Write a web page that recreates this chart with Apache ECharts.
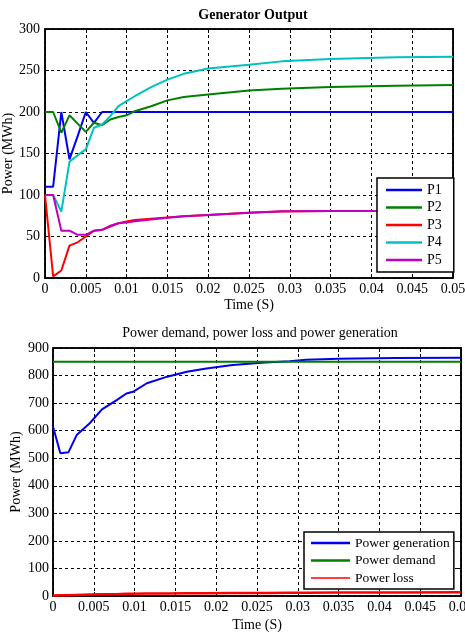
<!DOCTYPE html>
<html>
<head>
<meta charset="utf-8">
<script src="https://cdn.jsdelivr.net/npm/echarts@6/dist/echarts.min.js"></script>
<style>
html,body{margin:0;padding:0;background:#fff;}
#c{width:465px;height:637px;}
</style>
</head>
<body>
<div id="c"></div>
<script>
// ---- Top chart: Generator Output ----
var timeTop = [0, 0.001, 0.002, 0.003, 0.004, 0.005, 0.006, 0.007, 0.008, 0.009, 0.010, 0.011, 0.013, 0.015, 0.017, 0.020, 0.025, 0.029, 0.035, 0.043, 0.050];
var P1 = [110, 110, 200, 143, 171, 200, 187, 200, 200, 200, 200, 200, 200, 200, 200, 200, 200, 200, 200, 200, 200];
var P2 = [200, 200, 175, 196, 186, 176, 187, 184, 191, 194, 196, 201, 207, 214, 218, 221, 226, 228, 230, 231.5, 232.5];
var P3 = [100, 2, 9, 39, 43, 50, 57, 58, 62, 66, 68, 70, 71.5, 73, 74.5, 76, 78.5, 80, 80.7, 81, 81.5];
var P4 = [100, 100, 80, 140, 148, 155, 181, 185, 195, 207, 213, 219, 230, 239, 246, 252.5, 257, 261, 264, 266, 266.6];
var P5 = [100, 100, 57, 57, 52, 52, 57, 58, 63, 66, 67, 68.5, 70.5, 72.7, 74.5, 76, 78.7, 80.3, 80.7, 81, 81.5];
var topNames = ['P1', 'P2', 'P3', 'P4', 'P5'];

// ---- Bottom chart: Power demand, loss, generation ----
var timeBot = [0, 0.0009, 0.0019, 0.0029, 0.0045, 0.006, 0.0078, 0.009, 0.0098, 0.0115, 0.014, 0.0164, 0.0188, 0.022, 0.026, 0.029, 0.031, 0.035, 0.042, 0.050];
var generation = [615, 518, 522, 584, 627, 677, 711, 735, 741, 772, 796, 814, 826, 838, 847, 852, 857, 861, 864, 865];
var demand = [850, 850, 850, 850, 850, 850, 850, 850, 850, 850, 850, 850, 850, 850, 850, 850, 850, 850, 850, 850];
var loss = [2, 3, 3, 4, 5, 6, 6, 8, 8, 9, 9, 10, 10, 11, 11, 12, 12, 13, 13, 14];
var botNames = ['Power generation', 'Power demand', 'Power loss'];

var FONT = "'Liberation Serif','Times New Roman',serif";

function pairs(t, v) { return t.map(function (x, i) { return [x, v[i]]; }); }

function mkX(grid, pos, showLabel, name, nameGap) {
  return {
    type: 'value', gridIndex: grid, position: pos, min: 0, max: 0.05, interval: 0.005,
    name: showLabel ? name : '', nameLocation: 'middle', nameGap: nameGap, nameMoveOverlap: false,
    nameTextStyle: { fontFamily: FONT, fontSize: 14, color: '#000' },
    axisLine: { show: true, onZero: false, lineStyle: { color: '#000', width: 1.5 } },
    axisTick: { show: true, inside: true, length: 4, lineStyle: { color: '#000' } },
    axisLabel: { show: showLabel, fontFamily: FONT, fontSize: 14, color: '#000', margin: 4, showMaxLabel: true, hideOverlap: false },
    splitLine: { show: showLabel, lineStyle: { color: '#000', type: [3, 3], width: 1 } }
  };
}
function mkY(grid, pos, showLabel, max, interval, nameGap, margin) {
  return {
    type: 'value', gridIndex: grid, position: pos, min: 0, max: max, interval: interval,
    name: showLabel ? 'Power (MWh)' : '', nameLocation: 'middle', nameGap: nameGap, nameRotate: 90, nameMoveOverlap: false,
    nameTextStyle: { fontFamily: FONT, fontSize: 14, color: '#000' },
    axisLine: { show: true, onZero: false, lineStyle: { color: '#000', width: 1.5 } },
    axisTick: { show: true, inside: true, length: 4, lineStyle: { color: '#000' } },
    axisLabel: { show: showLabel, fontFamily: FONT, fontSize: 14, color: '#000', margin: margin },
    splitLine: { show: showLabel, lineStyle: { color: '#000', type: [3, 3], width: 1 } }
  };
}

var topColors = ['#0000f0', '#008000', '#ff0000', '#00c0c0', '#c000c0'];
var topData = [P1, P2, P3, P4, P5];
var botColors = ['#0000f0', '#008000', '#ff0000'];
var botData = [generation, demand, loss];
var botWidths = [2, 2, 2.5];

var series = [];
topData.forEach(function (d, i) {
  series.push({
    name: topNames[i], type: 'line', xAxisIndex: 0, yAxisIndex: 0,
    data: pairs(timeTop, d), symbol: 'none', smooth: false,
    lineStyle: { color: topColors[i], width: 2 }, itemStyle: { color: topColors[i] }
  });
});
botData.forEach(function (d, i) {
  series.push({
    name: botNames[i], type: 'line', xAxisIndex: 2, yAxisIndex: 2,
    data: pairs(timeBot, d), symbol: 'none', smooth: false,
    lineStyle: { color: botColors[i], width: botWidths[i] }, itemStyle: { color: botColors[i] }
  });
});

var thickIcon = 'path://M0,0H36V2.5H0Z';
var thickIcon2 = 'path://M0,0H39V2.7H0Z';
var thinIcon2 = 'path://M0,0L0.01,0L0,0.01ZM0,0.65H39V2.05H0ZM0,2.7L0.01,2.7L0,2.69Z';

var chart = echarts.init(document.getElementById('c'), null, { renderer: 'canvas' });
chart.setOption({
  animation: false,
  backgroundColor: '#fff',
  title: [
    { text: 'Generator Output', left: 248, top: 3, textAlign: 'center',
      textStyle: { fontFamily: FONT, fontSize: 14, fontWeight: 'bold', color: '#000' } },
    { text: 'Power demand, power loss and power generation', left: 255, top: 321, textAlign: 'center',
      textStyle: { fontFamily: FONT, fontSize: 14, fontWeight: 'normal', color: '#000' } }
  ],
  grid: [
    { left: 45, top: 29, width: 408, height: 249, show: true, borderColor: '#000', borderWidth: 1.5, backgroundColor: '#fff', containLabel: false, outerBoundsMode: 'none' },
    { left: 53, top: 348, width: 408, height: 248, show: true, borderColor: '#000', borderWidth: 1.5, backgroundColor: '#fff', containLabel: false, outerBoundsMode: 'none' }
  ],
  xAxis: [
    mkX(0, 'bottom', true, 'Time (S)', 20),
    mkX(0, 'top', false, '', 0),
    mkX(1, 'bottom', true, 'Time (S)', 22),
    mkX(1, 'top', false, '', 0)
  ],
  yAxis: [
    mkY(0, 'left', true, 300, 50, 30, 5),
    mkY(0, 'right', false, 300, 50, 0, 0),
    mkY(1, 'left', true, 900, 100, 30, 4),
    mkY(1, 'right', false, 900, 100, 0, 0)
  ],
  legend: [
    { data: topNames.map(function (n) { return { name: n, icon: thickIcon }; }),
      orient: 'vertical', left: 377, top: 178, itemWidth: 36, itemHeight: 2.5, itemGap: 3.5,
      padding: [5, 12, 5, 9], borderColor: '#000', borderWidth: 1.5, backgroundColor: '#fff',
      textStyle: { fontFamily: FONT, fontSize: 14, color: '#000', lineHeight: 14 } },
    { data: botNames.map(function (n, i) { return { name: n, icon: i === 2 ? thinIcon2 : thickIcon2 }; }),
      orient: 'vertical', left: 304, top: 532, itemWidth: 39, itemHeight: 2.7, itemGap: 3.5,
      padding: [4, 4, 4, 7], borderColor: '#000', borderWidth: 1.5, backgroundColor: '#fff',
      textStyle: { fontFamily: FONT, fontSize: 13.5, color: '#000', lineHeight: 14 } }
  ],
  series: series
});
</script>
</body>
</html>
